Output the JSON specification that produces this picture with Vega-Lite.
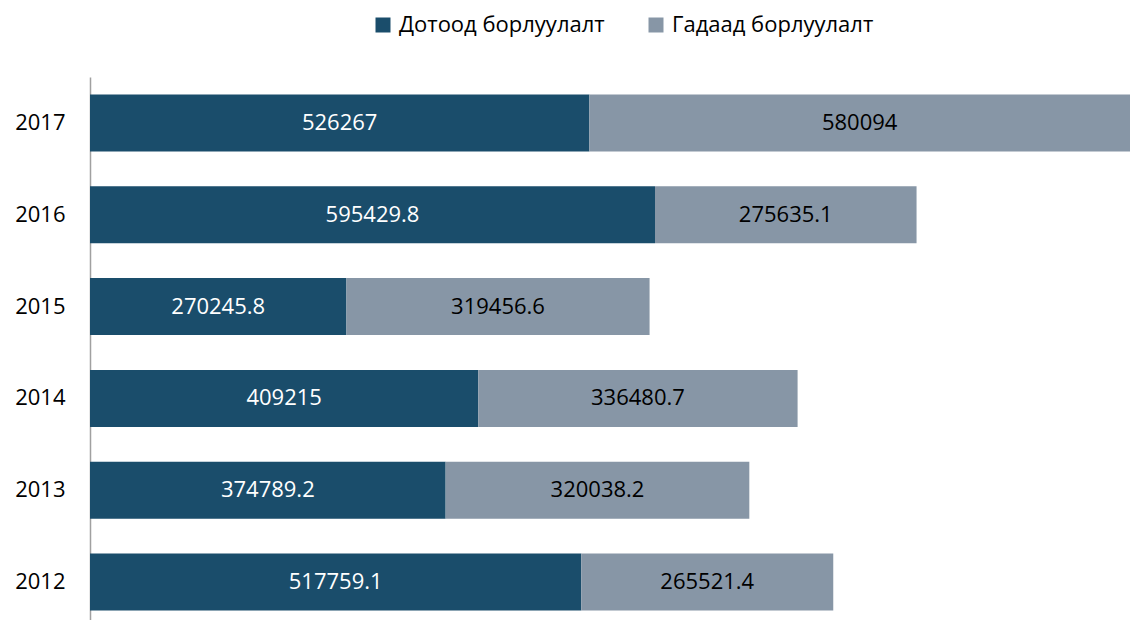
{
  "$schema": "https://vega.github.io/schema/vega-lite/v6.json",
  "width": 1040,
  "height": 551,
  "autosize": "none",
  "padding": {"left": 90, "top": 77, "right": 0, "bottom": 0},
  "background": "white",
  "config": {
    "view": {"stroke": null},
    "font": "Open Sans"
  },
  "data": {
    "values": [
      {"year": "2017", "cat": "Дотоод борлуулалт", "ord": 1, "value": 526267},
      {"year": "2017", "cat": "Гадаад борлуулалт", "ord": 2, "value": 580094},
      {"year": "2016", "cat": "Дотоод борлуулалт", "ord": 1, "value": 595429.8},
      {"year": "2016", "cat": "Гадаад борлуулалт", "ord": 2, "value": 275635.1},
      {"year": "2015", "cat": "Дотоод борлуулалт", "ord": 1, "value": 270245.8},
      {"year": "2015", "cat": "Гадаад борлуулалт", "ord": 2, "value": 319456.6},
      {"year": "2014", "cat": "Дотоод борлуулалт", "ord": 1, "value": 409215},
      {"year": "2014", "cat": "Гадаад борлуулалт", "ord": 2, "value": 336480.7},
      {"year": "2013", "cat": "Дотоод борлуулалт", "ord": 1, "value": 374789.2},
      {"year": "2013", "cat": "Гадаад борлуулалт", "ord": 2, "value": 320038.2},
      {"year": "2012", "cat": "Дотоод борлуулалт", "ord": 1, "value": 517759.1},
      {"year": "2012", "cat": "Гадаад борлуулалт", "ord": 2, "value": 265521.4}
    ]
  },
  "transform": [
    {"stack": "value", "groupby": ["year"], "sort": [{"field": "ord"}], "as": ["v0", "v1"]},
    {"calculate": "(datum.v0 + min(datum.v1, 1096000)) / 2", "as": "mid"}
  ],
  "encoding": {
    "y": {
      "field": "year",
      "type": "nominal",
      "sort": "descending",
      "scale": {"paddingInner": 0.38, "paddingOuter": 0.19},
      "axis": {
        "title": null,
        "ticks": false,
        "labelPadding": 25,
        "labelFontSize": 22,
        "labelColor": "#000000",
        "domainColor": "#a0a0a0",
        "domainWidth": 1.5,
        "grid": false
      }
    }
  },
  "layer": [
    {
      "mark": {"type": "bar", "clip": true},
      "encoding": {
        "x": {"field": "v0", "type": "quantitative", "scale": {"domain": [0, 1096000], "nice": false}, "axis": null},
        "x2": {"field": "v1"},
        "color": {
          "field": "cat",
          "type": "nominal",
          "scale": {"domain": ["Дотоод борлуулалт", "Гадаад борлуулалт"], "range": ["#1a4d6b", "#8796a6"]},
          "legend": {
            "title": null,
            "orient": "none",
            "direction": "horizontal",
            "legendX": 282,
            "legendY": -63,
            "symbolType": "square",
            "symbolSize": 225,
            "symbolStrokeWidth": 0,
            "symbolOpacity": 1,
            "labelFontSize": 22,
            "labelLimit": 400,
            "labelColor": "#000000",
            "labelOffset": 5,
            "columnPadding": 40
          }
        },
        "order": {"field": "ord"}
      }
    },
    {
      "mark": {"type": "text", "fontSize": 22, "align": "center", "baseline": "middle"},
      "encoding": {
        "x": {"field": "mid", "type": "quantitative"},
        "text": {"field": "value", "type": "nominal"},
        "color": {
          "condition": {"test": "datum.ord === 1", "value": "#ffffff"},
          "value": "#000000"
        }
      }
    }
  ]
}
